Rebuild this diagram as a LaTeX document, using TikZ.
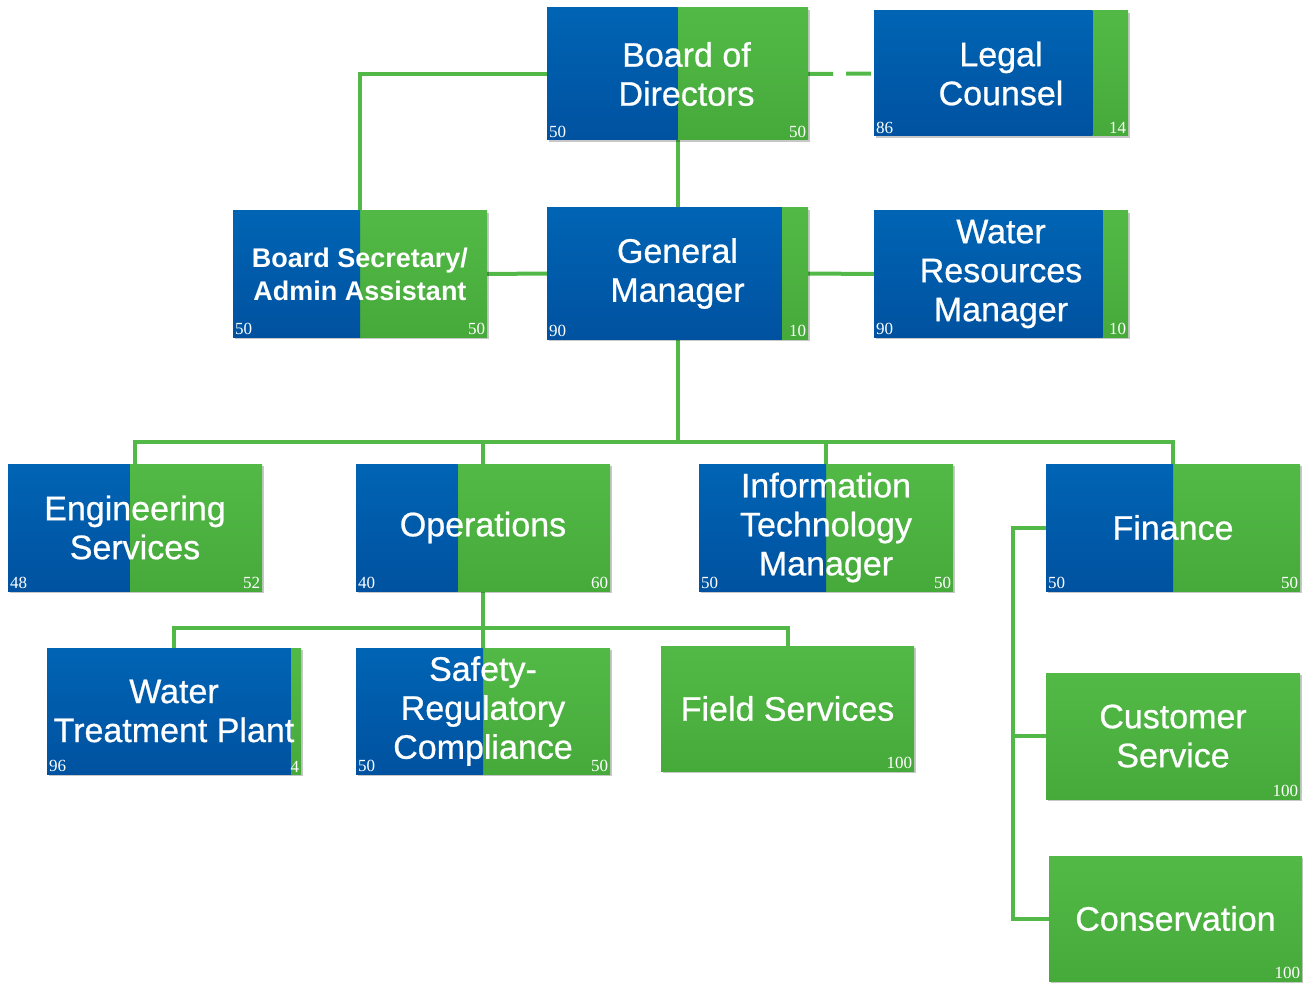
\documentclass[tikz,border=0pt]{standalone}
\usepackage{fontspec}
\setmainfont{Liberation Sans}
\newfontfamily\boxfont{Liberation Sans}[FakeBold=0.7]
\newfontfamily\boxfontb{Liberation Sans Bold}
\newfontfamily\numfont{Liberation Serif}
\usetikzlibrary{shadows,calc,backgrounds}
\definecolor{blueT}{RGB}{0,100,180}
\definecolor{blueB}{RGB}{0,82,160}
\definecolor{greenT}{RGB}{82,185,70}
\definecolor{greenB}{RGB}{70,170,58}
\definecolor{lineG}{RGB}{82,184,72}
\tikzset{
  gbox/.style={rectangle, top color=greenT, bottom color=greenB, text=white,
    inner sep=2pt, align=center, font=\boxfont\fontsize{34}{39}\selectfont,
    drop shadow={shadow xshift=2pt, shadow yshift=-2pt, fill=black, opacity=0.22}},
  split/.style={path picture={\shade[top color=blueT, bottom color=blueB]
    (path picture bounding box.north west) rectangle
    ($(path picture bounding box.south west)!#1!(path picture bounding box.south east)$);}},
  sz/.style 2 args={minimum width=#1pt, minimum height=#2pt},
  nl/.style={label={[anchor=south west, inner sep=2pt, text=white, font=\numfont\fontsize{17}{17}\selectfont]south west:#1}},
  nr/.style={label={[anchor=south east, inner sep=2pt, text=white, font=\numfont\fontsize{17}{17}\selectfont]south east:#1}},
  conn/.style={draw=lineG, line width=4pt},
}
\begin{document}
\begin{tikzpicture}[x=1pt, y=-1pt]
\useasboundingbox (0,0) rectangle (1303,984);
% nodes
\node[gbox, sz={261}{132}, split=0.5, nl=50, nr=50] (bod) at (677.5,74) {\hspace*{18pt}Board of\\\hspace*{18pt}Directors};
\node[gbox, sz={254}{125}, split=0.86, nl=86, nr=14] (legal) at (1001,73.5) {Legal\\Counsel};
\node[gbox, sz={254}{126}, split=0.5, nl=50, nr=50, font=\boxfontb\fontsize{27}{33}\selectfont] (bsec) at (360,274) {Board Secretary/\\Admin Assistant};
\node[gbox, sz={261}{131}, split=0.9, nl=90, nr=10] (gm) at (677.5,273.5) {General\\Manager};
\node[gbox, sz={254}{126}, split=0.9, nl=90, nr=10] (wrm) at (1001,274) {Water\\Resources\\Manager};
\node[gbox, sz={254}{127}, split=0.48, nl=48, nr=52] (eng) at (135,527.5) {Engineering\\Services};
\node[gbox, sz={254}{127}, split=0.4, nl=40, nr=60] (ops) at (483,527.5) {Operations};
\node[gbox, sz={254}{127}, split=0.5, nl=50, nr=50] (it) at (826,527.5) {Information\\Technology\\Manager};
\node[gbox, sz={254}{127}, split=0.5, nl=50, nr=50] (fin) at (1173,527.5) {Finance};
\node[gbox, sz={254}{126}, split=0.96, nl=96, nr=4] (wtp) at (174,711) {Water\\Treatment Plant};
\node[gbox, sz={254}{126}, split=0.5, nl=50, nr=50] (safe) at (483,711) {Safety-\\Regulatory\\Compliance};
\node[gbox, sz={253}{125}, nr=100] (field) at (787.5,708.5) {Field Services};
\node[gbox, sz={254}{126}, nr=100] (cust) at (1173,736) {Customer\\Service};
\node[gbox, sz={253}{125}, nr=100] (cons) at (1175.5,918.5) {Conservation};
\coordinate (bus) at (677.5,442);
\coordinate (obus) at (483,628);
\coordinate (fx) at (1013,0);
% connectors (behind)
\begin{scope}[on background layer]
\draw[conn] (bod.west) -| (bsec.north);
\draw[conn, dash pattern=on 25pt off 13pt] (bod.east) -- (legal.west);
\draw[conn] (bod.south) -- (gm.north);
\draw[conn] (gm.west) -- (bsec.east);
\draw[conn] (gm.east) -- (wrm.west);
\draw[conn] (gm.south) -- (gm.south |- bus);
\draw[conn] (eng.north) -- (eng.north |- bus) -- (fin.north |- bus) -- (fin.north);
\draw[conn] (ops.north) -- (ops.north |- bus);
\draw[conn] (it.north) -- (it.north |- bus);
\draw[conn] (ops.south) -- (ops.south |- obus);
\draw[conn] (wtp.north) -- (wtp.north |- obus) -- (field.north |- obus) -- (field.north);
\draw[conn] (safe.north) -- (safe.north |- obus);
\draw[conn] (fin.west) -| (fx |- cons.west) -- (cons.west);
\draw[conn] (cust.west) -- (cust.west -| fx);
\end{scope}
\end{tikzpicture}
\end{document}
